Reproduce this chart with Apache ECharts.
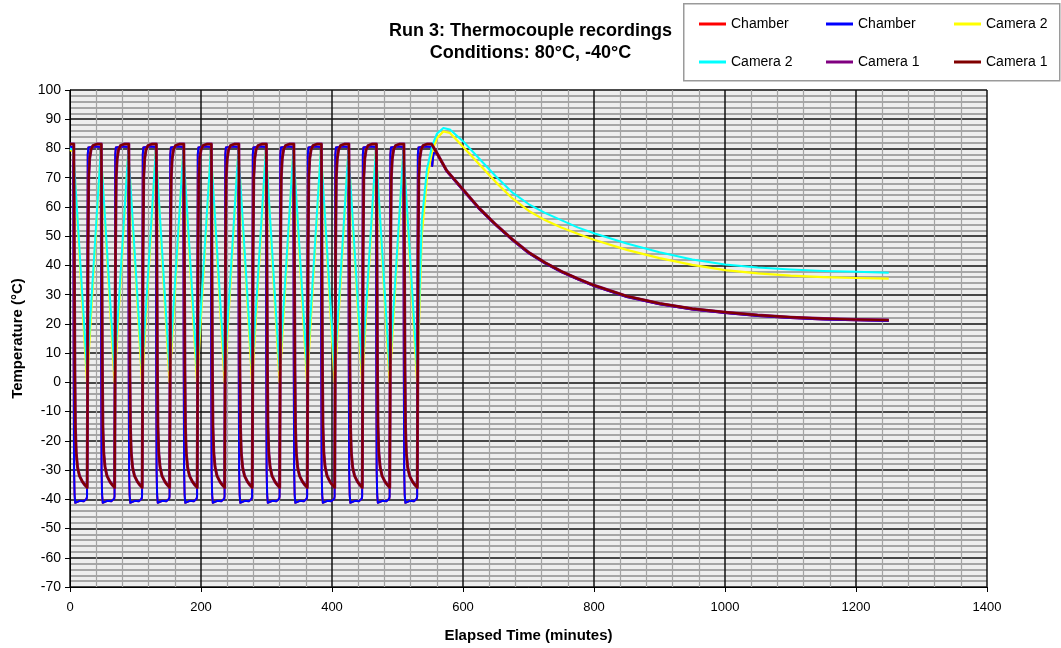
<!DOCTYPE html>
<html><head><meta charset="utf-8">
<script src="https://cdn.jsdelivr.net/npm/echarts@6/dist/echarts.min.js"></script>
<style>html,body{margin:0;padding:0;background:#fff}#c{width:1061px;height:648px}</style>
</head><body><div id="c"></div>
<script>
// ---------- text ----------
const titleLines = ['Run 3: Thermocouple recordings', 'Conditions: 80°C, -40°C'];
const xAxisName = 'Elapsed Time (minutes)';
const yAxisName = 'Temperature (°C)';
const legendLabels = ['Chamber', 'Chamber', 'Camera 2', 'Camera 2', 'Camera 1', 'Camera 1'];
const seriesIds = ['chamberRed', 'chamberBlue', 'camera2Yellow', 'camera2Cyan', 'camera1Purple', 'camera1DarkRed'];
const seriesColors = ['#ff0000', '#0000ff', '#ffff00', '#00ffff', '#800080', '#800000'];

// ---------- data ----------
// times (min) at which the chamber switches from hot to cold, one per cycle
const cycleDropTimes = [5, 47, 89, 131, 173, 215, 257, 299, 341, 383, 425, 467, 509];

// one thermal cycle: offsets (min) from the drop time and temperatures (°C)
const chamberCycleOffsets = [0, 0.6, 1.2, 2, 3, 5, 10, 16, 20.4, 21, 21.6, 22.1, 23, 32];
const chamberCycleValues  = [80.5, 10, -30, -38.5, -41.2, -40.7, -40.5, -40.7, -39.8, -39, 30, 78, 80.3, 80.7];
const camera1CycleOffsets = [0.8, 1.6, 2.4, 3.2, 4.5, 6.5, 9.5, 14, 18, 21.2, 21.8, 22.5, 23.5, 25, 27, 30, 36];
const camera1CycleValues  = [81.5, 45, 5, -15, -24, -29, -32, -34, -35.2, -36, -5, 45, 70, 76.5, 79.5, 81, 81.5];
const camera2CycleOffsets = [0, 21];
const camera2CyanCycleValues   = [79.5, 4];
const camera2YellowCycleValues = [79, 0];

// starting readings at t = 0
const chamberStart = [0, 80.5];
const camera1Start = [0, 81.5];
const camera2CyanStart = [0, 80];
const camera2YellowStart = [0, 79.5];

// after the last cycle: warm-up / cool-down
const chamberTailTimes  = [552, 553, 555, 560, 575, 600, 625, 650, 675, 700, 725, 750, 775, 800, 850, 900, 950, 1000, 1050, 1100, 1150, 1200, 1250];
const chamberTailValues = [80.5, 74, 78.5, 78.2, 72.2, 65.7, 59.2, 53.7, 48.7, 44.2, 40.7, 37.7, 35.2, 32.9, 29.2, 26.7, 24.9, 23.7, 22.7, 22, 21.5, 21.2, 21];
const camera1TailTimes  = [552, 560, 575, 600, 625, 650, 675, 700, 725, 750, 775, 800, 850, 900, 950, 1000, 1050, 1100, 1150, 1200, 1250];
const camera1TailValues = [81.5, 78.5, 72.5, 66, 59.5, 54, 49, 44.5, 41, 38, 35.5, 33.2, 29.5, 27, 25.2, 24, 23, 22.3, 21.8, 21.5, 21.3];
const camera2TailTimes  = [537, 545, 553, 560, 570, 580, 600, 625, 650, 675, 700, 725, 750, 775, 800, 850, 900, 950, 1000, 1050, 1100, 1150, 1200, 1250];
const camera2CyanTail   = [55, 73, 81, 85, 87, 86.5, 82.5, 76.5, 70.5, 65, 61, 58, 55.5, 53, 51, 47.5, 44.5, 42, 40.3, 39.3, 38.6, 38.1, 37.8, 37.5];
const camera2YellowTail = [50, 70, 79, 83.5, 85.8, 85.3, 80.6, 74.5, 68.5, 63, 58.7, 55.5, 53, 50.8, 48.8, 45.3, 42.5, 40.2, 38.4, 37.3, 36.5, 36, 35.7, 35.5];

// ---------- build series data ----------
function buildSeries(start, offsets, values, tailTimes, tailValues) {
  const pts = [start];
  cycleDropTimes.forEach(function (d) {
    offsets.forEach(function (o, i) { pts.push([d + o, values[i]]); });
  });
  tailTimes.forEach(function (t, i) { pts.push([t, tailValues[i]]); });
  return pts;
}
const chamberData = buildSeries(chamberStart, chamberCycleOffsets, chamberCycleValues, chamberTailTimes, chamberTailValues);
const camera1Data = buildSeries(camera1Start, camera1CycleOffsets, camera1CycleValues, camera1TailTimes, camera1TailValues);
const camera2CyanData = buildSeries(camera2CyanStart, camera2CycleOffsets, camera2CyanCycleValues, camera2TailTimes, camera2CyanTail);
const camera2YellowData = buildSeries(camera2YellowStart, camera2CycleOffsets, camera2YellowCycleValues, camera2TailTimes, camera2YellowTail);
const seriesData = [chamberData, chamberData, camera2YellowData, camera2CyanData, camera1Data, camera1Data];
const lineWidths = [2, 2, 2.2, 2, 3, 2.2];

const chart = echarts.init(document.getElementById('c'), null, {renderer: 'canvas'});
const font = "'Liberation Sans', Arial, sans-serif";
const legendCols = [699, 826, 954];
const legendRows = [17, 55];
const nameMap = {};
seriesIds.forEach(function (id, i) { nameMap[id] = legendLabels[i]; });

chart.setOption({
  animation: false,
  backgroundColor: '#ffffff',
  textStyle: {fontFamily: font, color: '#000'},
  title: {
    text: titleLines.join('\n'), left: 'center', top: 15,
    textStyle: {fontSize: 18, fontWeight: 'bold', lineHeight: 22, color: '#000', fontFamily: font}
  },
  graphic: [{
    type: 'rect', left: 683, top: 3, z: 0,
    shape: {width: 376, height: 77},
    style: {fill: '#ffffff', stroke: '#9a9a9a', lineWidth: 1.5}
  }],
  legend: seriesIds.map(function (id, i) {
    return {
      data: [id], left: legendCols[i % 3], top: legendRows[Math.floor(i / 3)],
      padding: 0, itemGap: 0, itemWidth: 27, itemHeight: 3, icon: 'rect',
      selectedMode: false, z: 5,
      formatter: function (n) { return nameMap[n]; },
      textStyle: {fontSize: 14, color: '#000', fontFamily: font}
    };
  }),
  grid: {left: 70, right: 74, top: 90, bottom: 60, show: true, backgroundColor: '#eeeeee', borderWidth: 0},
  xAxis: {
    type: 'value', min: 0, max: 1400, interval: 200,
    name: xAxisName, nameLocation: 'middle', nameGap: 41,
    nameTextStyle: {fontSize: 15, fontWeight: 'bold', color: '#000', fontFamily: font},
    axisLine: {show: true, onZero: false, lineStyle: {color: '#000', width: 1}},
    axisTick: {show: true, length: 5, lineStyle: {color: '#000'}},
    axisLabel: {fontSize: 13, color: '#000', margin: 14, fontFamily: font,
      formatter: function (v) { return String(v); }},
    splitLine: {show: true, lineStyle: {color: '#111', width: 1.5}},
    minorTick: {show: false, splitNumber: 5},
    minorSplitLine: {show: true, lineStyle: {color: '#a4a4a4', width: 1.2}}
  },
  yAxis: {
    type: 'value', min: -70, max: 100, interval: 10,
    name: yAxisName, nameLocation: 'middle', nameGap: 45, nameRotate: 90,
    nameTextStyle: {fontSize: 15, fontWeight: 'bold', color: '#000', fontFamily: font},
    axisLine: {show: true, onZero: false, lineStyle: {color: '#000', width: 1}},
    axisTick: {show: true, length: 5, lineStyle: {color: '#000'}},
    axisLabel: {fontSize: 14, color: '#000', margin: 9, fontFamily: font},
    splitLine: {show: true, lineStyle: {color: '#111', width: 1.5}},
    minorTick: {show: false, splitNumber: 5},
    minorSplitLine: {show: true, lineStyle: {color: '#8e8e8e', width: 1.5}}
  },
  series: seriesIds.map(function (id, i) {
    return {
      name: id, type: 'line', data: seriesData[i], color: seriesColors[i],
      symbol: 'none', showSymbol: false, clip: true, z: 2 + i,
      lineStyle: {color: seriesColors[i], width: lineWidths[i], join: 'round'}
    };
  })
});
</script>
</body></html>
